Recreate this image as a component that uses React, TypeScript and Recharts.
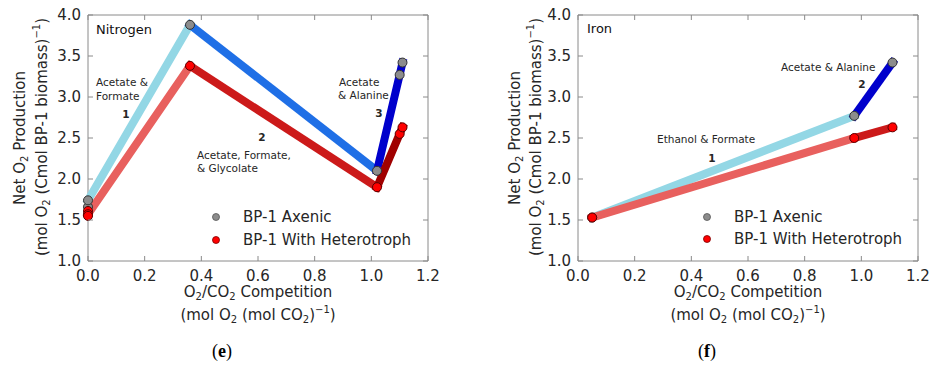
import React from 'react';
import { ScatterChart, Scatter, XAxis, YAxis, ReferenceArea } from 'recharts';

const xTicks = [0, 0.2, 0.4, 0.6, 0.8, 1.0, 1.2];
const yTicks = [1.0, 1.5, 2.0, 2.5, 3.0, 3.5, 4.0];

// (e) Nitrogen
const nitroAxenic1 = [{ x: 0.0, y: 1.74 }, { x: 0.36, y: 3.88 }];
const nitroAxenic2 = [{ x: 0.36, y: 3.88 }, { x: 1.02, y: 2.1 }];
const nitroAxenic3 = [{ x: 1.02, y: 2.1 }, { x: 1.1, y: 3.27 }, { x: 1.11, y: 3.42 }];
const nitroHetero1 = [{ x: 0.0, y: 1.57 }, { x: 0.36, y: 3.38 }];
const nitroHetero2 = [{ x: 0.36, y: 3.38 }, { x: 1.02, y: 1.9 }];
const nitroHetero3 = [{ x: 1.02, y: 1.9 }, { x: 1.1, y: 2.55 }, { x: 1.11, y: 2.63 }];
const nitroAxenicPts = [
  { x: 0.0, y: 1.66 }, { x: 0.0, y: 1.74 }, { x: 0.36, y: 3.88 },
  { x: 1.02, y: 2.1 }, { x: 1.1, y: 3.27 }, { x: 1.11, y: 3.42 },
];
const nitroHeteroPts = [
  { x: 0.0, y: 1.61 }, { x: 0.0, y: 1.57 }, { x: 0.0, y: 1.55 }, { x: 0.36, y: 3.38 },
  { x: 1.02, y: 1.9 }, { x: 1.1, y: 2.55 }, { x: 1.11, y: 2.63 },
];

// (f) Iron
const ironAxenic1 = [{ x: 0.05, y: 1.53 }, { x: 0.975, y: 2.77 }];
const ironAxenic2 = [{ x: 0.975, y: 2.77 }, { x: 1.11, y: 3.42 }];
const ironHetero1 = [{ x: 0.05, y: 1.53 }, { x: 0.975, y: 2.5 }];
const ironHetero2 = [{ x: 0.975, y: 2.5 }, { x: 1.11, y: 2.63 }];
const ironAxenicPts = [{ x: 0.05, y: 1.53 }, { x: 0.975, y: 2.77 }, { x: 1.11, y: 3.42 }];
const ironHeteroPts = [{ x: 0.05, y: 1.53 }, { x: 0.975, y: 2.5 }, { x: 1.11, y: 2.63 }];

const SPINE = '#8a8a8a';
const TEXT = '#262626';
const FONT = 'DejaVu Sans, sans-serif';
const PLOT_TOP = 15;
const PLOT_W = 340;
const X_GAP = 9;
const Y_GAP = 7;

const XTick = (props: any) => {
  const { x, y, payload } = props;
  const base = y - X_GAP;
  return (
    <g>
      <line x1={x} x2={x} y1={base} y2={base - 5} stroke={SPINE} />
      <line x1={x} x2={x} y1={PLOT_TOP} y2={PLOT_TOP + 5} stroke={SPINE} />
      <text x={x} y={y} dy="0.71em" textAnchor="middle" fontSize={15} fontFamily={FONT} fill={TEXT}>
        {Number(payload.value).toFixed(1)}
      </text>
    </g>
  );
};

const YTick = (props: any) => {
  const { x, y, payload } = props;
  const left = x + Y_GAP;
  const right = left + PLOT_W;
  return (
    <g>
      <line x1={left} x2={left + 5} y1={y} y2={y} stroke={SPINE} />
      <line x1={right - 5} x2={right} y1={y} y2={y} stroke={SPINE} />
      <text x={x} y={y} dy="0.35em" textAnchor="end" fontSize={15} fontFamily={FONT} fill={TEXT}>
        {Number(payload.value).toFixed(1)}
      </text>
    </g>
  );
};

const noDot = () => <g />;
const dot = (fill: string, stroke: string) => (p: any) =>
  <circle cx={p.cx} cy={p.cy} r={4.5} fill={fill} stroke={stroke} strokeWidth={1} />;

type Seg = { data: { x: number; y: number }[]; color: string };

const Panel = ({ segs, axenic, hetero, yw, mr }: { segs: Seg[]; axenic: any[]; hetero: any[]; yw: number; mr: number }) => (
  <ScatterChart width={466} height={300} margin={{ top: PLOT_TOP, right: mr, bottom: 0, left: 0 }}>
    <XAxis type="number" dataKey="x" domain={[0, 1.2]} ticks={xTicks} interval={0} height={39}
      axisLine={false} tickLine={false} tickSize={0} tickMargin={X_GAP} tick={(p: any) => <XTick {...p} />} />
    <YAxis type="number" dataKey="y" domain={[1, 4]} ticks={yTicks} interval={0} width={yw}
      axisLine={false} tickLine={false} tickSize={0} tickMargin={Y_GAP} tick={(p: any) => <YTick {...p} />} />
    <ReferenceArea x1={0} x2={1.2} y1={1} y2={4} fill="none" stroke={SPINE} strokeWidth={1} ifOverflow="visible" />
    {segs.map((s, i) => (
      <Scatter key={i} data={s.data} shape={noDot} isAnimationActive={false}
        line={{ stroke: s.color, strokeWidth: 8, strokeLinecap: 'square' } as any} />
    ))}
    <Scatter data={axenic} shape={dot('#8c8c8c', '#333')} isAnimationActive={false} />
    <Scatter data={hetero} shape={dot('#ff0000', '#5a0000')} isAnimationActive={false} />
  </ScatterChart>
);

// parts: plain strings, or ['_', t] for subscript, ['^', t] for superscript
type Part = string | [string, string];
const rich = (parts: Part[]) => {
  let shift = 0;
  return parts.map((p, i) => {
    const target = typeof p === 'string' ? 0 : p[0] === '_' ? 4 : -6;
    const dy = target - shift;
    shift = target;
    const text = typeof p === 'string' ? p : p[1];
    return (
      <tspan key={i} dy={dy || undefined} fontSize={typeof p === 'string' ? undefined : 10}>{text}</tspan>
    );
  });
};

const YLabel = ({ x1, x2 }: { x1: number; x2: number }) => (
  <g fontFamily={FONT} fontSize={15} fill={TEXT} textAnchor="middle">
    <text transform={`translate(${x1},138) rotate(-90)`} dominantBaseline="central">
      {rich(['Net O', ['_', '2'], ' Production'])}
    </text>
    <text transform={`translate(${x2},137) rotate(-90)`} dominantBaseline="central">
      {rich(['(mol O', ['_', '2'], ' (Cmol BP-1 biomass)', ['^', '−1'], ')'])}
    </text>
  </g>
);

const XLabel = ({ cx }: { cx: number }) => (
  <g fontFamily={FONT} fontSize={15} fill={TEXT} textAnchor="middle">
    <text x={cx} y={292} dominantBaseline="central">
      {rich(['O', ['_', '2'], '/CO', ['_', '2'], ' Competition'])}
    </text>
    <text x={cx} y={315} dominantBaseline="central">
      {rich(['(mol O', ['_', '2'], ' (mol CO', ['_', '2'], ')', ['^', '−1'], ')'])}
    </text>
  </g>
);

const LegendBox = ({ x, y1, y2 }: { x: number; y1: number; y2: number }) => (
  <g fontFamily={FONT} fontSize={15} fill={TEXT}>
    <circle cx={x} cy={y1} r={3.5} fill="#8c8c8c" stroke="#555" strokeWidth={0.8} />
    <circle cx={x} cy={y2} r={3.5} fill="#ff0000" stroke="#7a0000" strokeWidth={0.8} />
    <text x={x + 27} y={y1} dominantBaseline="central">BP-1 Axenic</text>
    <text x={x + 27} y={y2} dominantBaseline="central">BP-1 With Heterotroph</text>
  </g>
);

const Note = ({ x, y, t, bold, mid }: { x: number; y: number; t: string; bold?: boolean; mid?: boolean }) => (
  <text x={x} y={y} dominantBaseline="central" fontFamily={FONT} fontSize={10.5} fill={TEXT}
    fontWeight={bold ? 'bold' : 'normal'} textAnchor={mid ? 'middle' : 'start'}>{t}</text>
);

export default function App() {
  return (
    <div style={{ position: 'relative', width: 932, height: 369, background: '#fff' }}>
      <style>{'body{margin:0}'}</style>
      <div style={{ position: 'absolute', left: 0, top: 0 }}>
        <Panel
          yw={88} mr={38}
          segs={[
            { data: nitroAxenic1, color: '#93d7e5' },
            { data: nitroHetero1, color: '#e8605e' },
            { data: nitroAxenic2, color: '#1f6fe6' },
            { data: nitroHetero2, color: '#cc1a1a' },
            { data: nitroAxenic3, color: '#0000cc' },
            { data: nitroHetero3, color: '#a00000' },
          ]}
          axenic={nitroAxenicPts} hetero={nitroHeteroPts}
        />
      </div>
      <div style={{ position: 'absolute', left: 466, top: 0 }}>
        <Panel
          yw={112} mr={14}
          segs={[
            { data: ironAxenic1, color: '#93d7e5' },
            { data: ironHetero1, color: '#e8605e' },
            { data: ironAxenic2, color: '#0000cc' },
            { data: ironHetero2, color: '#cc1a1a' },
          ]}
          axenic={ironAxenicPts} hetero={ironHeteroPts}
        />
      </div>
      <svg width={932} height={369} style={{ position: 'absolute', left: 0, top: 0, pointerEvents: 'none' }}>
        <YLabel x1={20} x2={42} />
        <YLabel x1={515} x2={536} />
        <XLabel cx={258} />
        <XLabel cx={748} />
        <LegendBox x={216} y1={217} y2={240} />
        <LegendBox x={707} y1={217} y2={239} />
        <text x={96} y={29} dominantBaseline="central" fontFamily={FONT} fontSize={13} fill="#111">Nitrogen</text>
        <text x={587} y={28} dominantBaseline="central" fontFamily={FONT} fontSize={13} fill="#111">Iron</text>
        <Note x={96} y={82} t="Acetate &" />
        <Note x={96} y={96} t="Formate" />
        <Note x={126} y={114} t="1" bold mid />
        <Note x={262} y={137} t="2" bold mid />
        <Note x={197} y={155} t="Acetate, Formate," />
        <Note x={197} y={168} t="& Glycolate" />
        <Note x={339} y={82} t="Acetate" />
        <Note x={338} y={95} t="& Alanine" />
        <Note x={379} y={113} t="3" bold mid />
        <Note x={781} y={67} t="Acetate & Alanine" />
        <Note x={862} y={84} t="2" bold mid />
        <Note x={657} y={139} t="Ethanol & Formate" />
        <Note x={712} y={158} t="1" bold mid />
        <g fontFamily="Liberation Serif, serif" fontSize={18} fill="#000" textAnchor="middle">
          <text x={222} y={351} dominantBaseline="central">(<tspan fontWeight="bold">e</tspan>)</text>
          <text x={707} y={351} dominantBaseline="central">(<tspan fontWeight="bold">f</tspan>)</text>
        </g>
      </svg>
    </div>
  );
}
